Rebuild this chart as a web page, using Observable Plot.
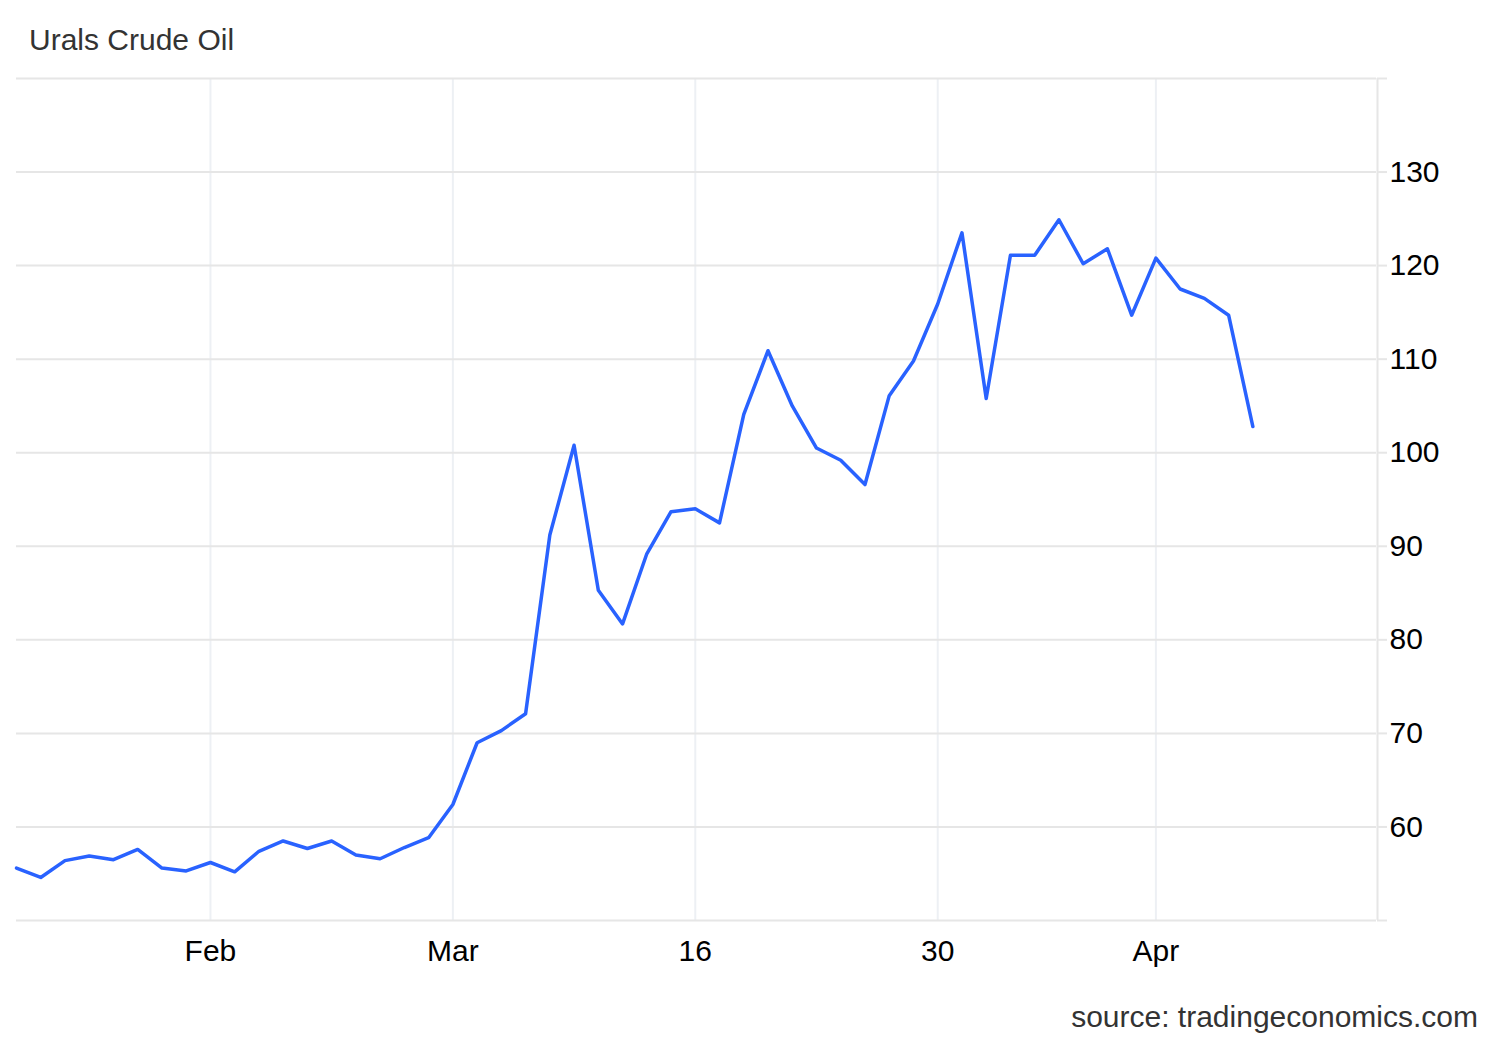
<!DOCTYPE html>
<html>
<head>
<meta charset="utf-8">
<script src="https://cdn.jsdelivr.net/npm/d3@7"></script>
<script src="https://cdn.jsdelivr.net/npm/@observablehq/plot@0.6"></script>
<style>
  html, body { margin: 0; padding: 0; background: #fff; }
  #wrap { position: relative; width: 1500px; height: 1040px; font-family: "Liberation Sans", Arial, sans-serif; }
  #title { position: absolute; left: 29px; top: 25px; font-size: 30px; line-height: 30px; color: #333; white-space: nowrap; }
  #chart { position: absolute; left: 0; top: 60px; }
  #source { position: absolute; right: 22px; top: 1002px; font-size: 30px; line-height: 30px; color: #333; white-space: nowrap; }
</style>
</head>
<body>
<div id="wrap">
  <div id="title">Urals Crude Oil</div>
  <div id="chart"></div>
  <div id="source">source: tradingeconomics.com</div>
</div>
<script>
// Urals crude oil price, one value per observation (USD/bbl)
const prices = [
  55.6, 54.6, 56.4, 56.9, 56.5, 57.6, 55.6, 55.3, 56.2, 55.2,
  57.4, 58.5, 57.7, 58.5, 57.0, 56.6, 57.8, 58.85, 62.4, 69.0,
  70.3, 72.1, 91.2, 100.8, 85.3, 81.7, 89.2, 93.7, 94.0, 92.5,
  104.1, 110.9, 105.0, 100.5, 99.2, 96.6, 106.1, 109.8, 115.9, 123.5,
  105.8, 121.1, 121.1, 124.9, 120.2, 121.8, 114.7, 120.8, 117.5, 116.5,
  114.7, 102.8
];
// x-axis tick labels and the observation they sit on
const xTickLabels = ["Feb", "Mar", "16", "30", "Apr"];
const xTickIndex = [8, 18, 28, 38, 47];
// y-axis ticks
const yTicks = [50, 60, 70, 80, 90, 100, 110, 120, 130, 140];
const yLabelled = [60, 70, 80, 90, 100, 110, 120, 130];
const xDomain = [0, 56.1];
const yDomain = [50, 140];

const data = prices.map((v, i) => ({i, v}));
const labelOf = new Map(xTickIndex.map((k, j) => [k, xTickLabels[j]]));

const chart = Plot.plot({
  width: 1500,
  height: 940,
  marginLeft: 16,
  marginRight: 124,
  marginTop: 18,
  marginBottom: 80,
  style: { fontFamily: "'Liberation Sans', Arial, sans-serif", fontSize: "30px", color: "#000", background: "transparent", overflow: "visible" },
  x: { type: "linear", domain: xDomain, label: null },
  y: { domain: yDomain, label: null },
  marks: [
    Plot.gridX(xTickIndex, { stroke: "#edf0f4", strokeOpacity: 1, strokeWidth: 2 }),
    Plot.gridY(yTicks, { stroke: "#e6e6e6", strokeOpacity: 1, strokeWidth: 2 }),
    Plot.ruleX([xDomain[1]], { stroke: "#e6e6e6", strokeWidth: 2, dx: 1 }),
    Plot.axisY(yTicks, {
      anchor: "right", tickSize: 10, tickPadding: 3, label: null,
      stroke: "#e6e6e6", strokeWidth: 2, fill: "#000", fontSize: 30,
      tickFormat: d => yLabelled.includes(d) ? String(d) : ""
    }),
    Plot.axisX(xTickIndex, {
      anchor: "bottom", tickSize: 0, tickPadding: 19, label: null, fill: "#000", fontSize: 30,
      tickFormat: d => labelOf.get(d)
    }),
    Plot.line(data, { x: "i", y: "v", stroke: "#2962ff", strokeWidth: 3.5 })
  ]
});
document.getElementById("chart").appendChild(chart);
</script>
</body>
</html>
